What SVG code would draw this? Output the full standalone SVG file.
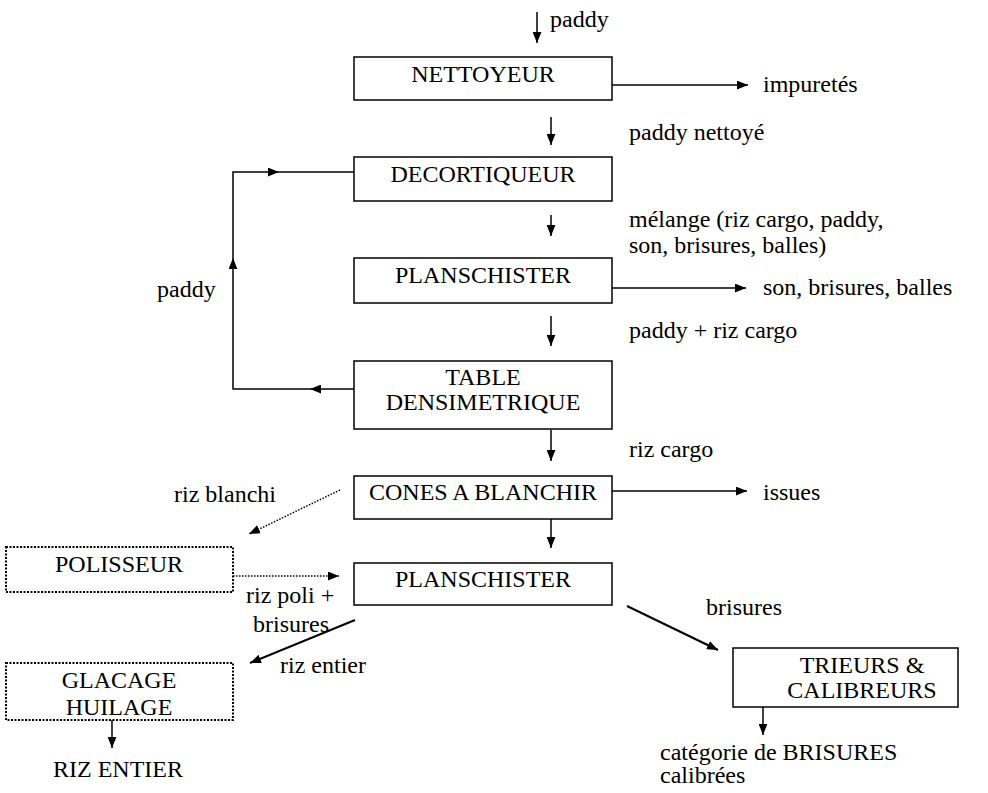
<svg xmlns="http://www.w3.org/2000/svg" width="988" height="793" viewBox="0 0 988 793">
<defs>
<marker id="ah" viewBox="0 0 10 8" refX="10" refY="4" markerWidth="11" markerHeight="9" markerUnits="userSpaceOnUse" orient="auto"><path d="M0,0 L10,4 L0,8 Z" fill="#000"/></marker>
</defs>
<style>
.c{text-anchor:middle}
.box{fill:#fff;stroke:#000;stroke-width:1.5}
.dbox{fill:#fff;stroke:#000;stroke-width:2;stroke-dasharray:2,1.5}
.ln{fill:none;stroke:#000;stroke-width:1.5}
.ar{fill:none;stroke:#000;stroke-width:1.5;marker-end:url(#ah)}
.thick{fill:none;stroke:#000;stroke-width:2;marker-end:url(#ah)}
.dot{fill:none;stroke:#000;stroke-width:1.5;stroke-dasharray:1.5,1.5;marker-end:url(#ah)}
</style>
<rect width="988" height="793" fill="#fff"/>
<g id="connectors">
<line class="ar" x1="537" y1="12" x2="537" y2="43"/>
<line class="ar" x1="612" y1="85" x2="748" y2="85"/>
<line class="ar" x1="551" y1="117" x2="551" y2="145"/>
<line class="ar" x1="551" y1="215" x2="551" y2="236"/>
<line class="ar" x1="612" y1="288" x2="746" y2="288"/>
<line class="ar" x1="551" y1="316" x2="551" y2="346"/>
<line class="ar" x1="354" y1="389" x2="310" y2="389"/>
<path class="ar" d="M310,389 L233,389 L233,258"/>
<path class="ar" d="M233,258 L233,172 L279,172"/>
<line class="ln" x1="279" y1="172" x2="354" y2="172"/>
<line class="ar" x1="551" y1="430" x2="551" y2="461"/>
<line class="ar" x1="612" y1="491" x2="747" y2="491"/>
<line class="ar" x1="551" y1="519" x2="551" y2="548"/>
<line class="dot" x1="340" y1="490" x2="249" y2="534"/>
<line class="dot" x1="233" y1="576" x2="339" y2="576"/>
<line class="thick" x1="355" y1="620" x2="250" y2="663"/>
<line class="thick" x1="627" y1="606" x2="718" y2="650"/>
<line class="ar" x1="763" y1="707" x2="763" y2="735"/>
<line class="ar" x1="112" y1="720" x2="112" y2="748"/>
</g>
<g font-family="Liberation Serif, Times New Roman, serif" font-size="24" fill="#000">
<g id="nettoyeur"><rect class="box" x="354" y="57" width="258" height="43"/><text class="c" x="483" y="82">NETTOYEUR</text></g>
<g id="decortiqueur"><rect class="box" x="354" y="157" width="258" height="44"/><text class="c" x="483" y="182">DECORTIQUEUR</text></g>
<g id="planschister1"><rect class="box" x="354" y="258" width="258" height="45"/><text class="c" x="483" y="283">PLANSCHISTER</text></g>
<g id="table"><rect class="box" x="354" y="361" width="258" height="68"/><text class="c" x="483" y="385">TABLE</text><text class="c" x="483" y="410">DENSIMETRIQUE</text></g>
<g id="cones"><rect class="box" x="354" y="476" width="258" height="43"/><text class="c" x="483" y="500">CONES A BLANCHIR</text></g>
<g id="planschister2"><rect class="box" x="354" y="563" width="258" height="42"/><text class="c" x="483" y="587">PLANSCHISTER</text></g>
<g id="polisseur"><rect class="dbox" x="6" y="547" width="227" height="45"/><text class="c" x="119" y="572">POLISSEUR</text></g>
<g id="glacage"><rect class="dbox" x="6" y="663" width="227" height="57"/><text class="c" x="119" y="688">GLACAGE</text><text class="c" x="119" y="715">HUILAGE</text></g>
<g id="trieurs"><rect class="box" x="733" y="648" width="225" height="59"/><text class="c" x="862" y="673">TRIEURS &amp;</text><text class="c" x="862" y="698">CALIBREURS</text></g>
<g id="labels">
<text x="550" y="27">paddy</text>
<text x="763" y="92">impuretés</text>
<text x="629" y="140">paddy nettoyé</text>
<text x="629" y="227">mélange (riz cargo, paddy,</text>
<text x="629" y="253">son, brisures, balles)</text>
<text x="763" y="295">son, brisures, balles</text>
<text x="629" y="338">paddy + riz cargo</text>
<text x="157" y="297">paddy</text>
<text x="629" y="457">riz cargo</text>
<text x="763" y="500">issues</text>
<text x="174" y="502">riz blanchi</text>
<text x="246" y="603">riz poli +</text>
<text x="253" y="632">brisures</text>
<text x="280" y="673">riz entier</text>
<text x="706" y="615">brisures</text>
<text x="660" y="760">catégorie de BRISURES</text>
<text x="660" y="783">calibrées</text>
<text x="53" y="777">RIZ ENTIER</text>
</g>
</g>
</svg>
